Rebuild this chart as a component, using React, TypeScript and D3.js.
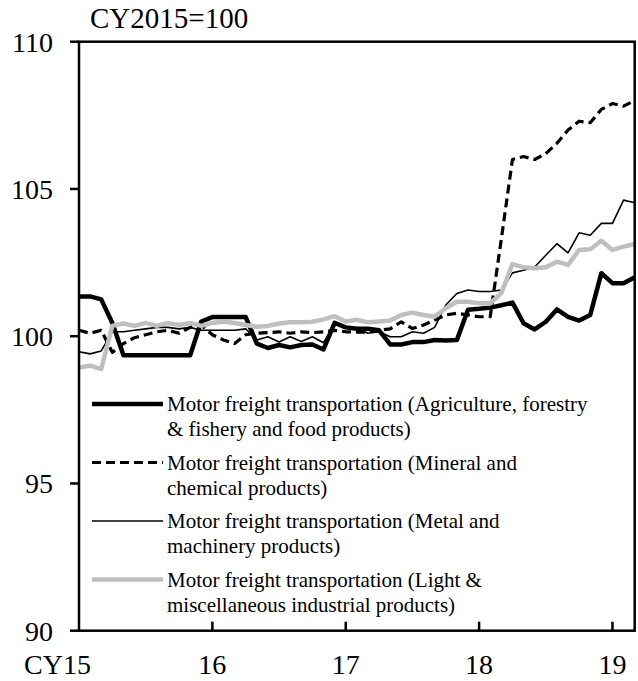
import React from "react";
import * as d3 from "d3";

const months: number = 51; // Jan 2015 .. Mar 2019
const agri = [101.35, 101.35, 101.25, 100.45, 99.35, 99.35, 99.35, 99.35, 99.35, 99.35, 99.35, 100.5, 100.65, 100.65, 100.65, 100.65, 99.75, 99.6, 99.7, 99.62, 99.7, 99.72, 99.55, 100.45, 100.3, 100.25, 100.25, 100.2, 99.72, 99.72, 99.8, 99.8, 99.87, 99.85, 99.87, 100.9, 100.93, 100.97, 101.05, 101.14, 100.44, 100.23, 100.49, 100.91, 100.66, 100.53, 100.72, 102.14, 101.8, 101.8, 102.0];
const mineral = [100.2, 100.1, 100.2, 99.45, 99.75, 99.95, 100.05, 100.15, 100.2, 100.1, 100.3, 100.38, 100.05, 99.87, 99.75, 100.05, 100.1, 100.12, 100.15, 100.1, 100.15, 100.12, 100.15, 100.2, 100.15, 100.14, 100.14, 100.2, 100.25, 100.49, 100.26, 100.38, 100.55, 100.72, 100.78, 100.72, 100.66, 100.66, 103.3, 106.0, 106.1, 106.0, 106.2, 106.55, 107.0, 107.3, 107.25, 107.7, 107.9, 107.81, 108.0];
const metal = [99.47, 99.4, 99.5, 100.15, 100.15, 100.2, 100.25, 100.3, 100.3, 100.25, 100.3, 100.2, 100.2, 100.2, 100.2, 100.25, 99.87, 99.98, 99.8, 99.98, 99.82, 99.98, 99.78, 100.4, 100.32, 100.26, 100.1, 100.15, 99.98, 99.98, 100.15, 100.1, 100.3, 101.06, 101.45, 101.57, 101.52, 101.52, 101.57, 102.15, 102.24, 102.35, 102.75, 103.14, 102.83, 103.51, 103.43, 103.83, 103.83, 104.62, 104.53];
const light = [98.94, 99.0, 98.88, 100.35, 100.43, 100.35, 100.45, 100.35, 100.45, 100.38, 100.45, 100.35, 100.45, 100.5, 100.45, 100.38, 100.32, 100.35, 100.43, 100.47, 100.47, 100.49, 100.57, 100.68, 100.5, 100.56, 100.47, 100.5, 100.53, 100.72, 100.8, 100.72, 100.66, 100.95, 101.17, 101.17, 101.12, 101.12, 101.46, 102.45, 102.34, 102.31, 102.34, 102.53, 102.42, 102.93, 102.95, 103.24, 102.93, 103.04, 103.13];

const xTickIdx = [12, 24, 36, 48];
const xTickLabels = ["16", "17", "18", "19"];
const firstLabel = "CY15";
const yTicks = [90, 95, 100, 105, 110];
const unitLabel = "CY2015=100";

const legendLines = [
  ["Motor freight transportation (Agriculture, forestry", "& fishery and food products)"],
  ["Motor freight transportation (Mineral and", "chemical products)"],
  ["Motor freight transportation (Metal and", "machinery products)"],
  ["Motor freight transportation (Light &", "miscellaneous industrial products)"],
];

const styles = [
  { color: "#000", width: 4.5, dash: "" },
  { color: "#000", width: 3.2, dash: "9,5" },
  { color: "#000", width: 1.6, dash: "" },
  { color: "#bfbfbf", width: 4.5, dash: "" },
];

export default function App() {
  const L = 79, R = 634.7, T = 41.7, B = 630.7;
  const x = d3.scaleLinear().domain([0, months - 1]).range([L, R]);
  const y = d3.scaleLinear().domain([90, 110]).range([B, T]);
  const line = d3.line<number>().x((_, i) => x(i)).y((d) => y(d));
  const series = [agri, mineral, metal, light];
  const font = "'Liberation Serif', 'Times New Roman', serif";
  const legY = [404, 462.5, 521, 579.5];
  return (
    <svg width={638} height={681} style={{ position: "absolute", left: 0, top: 0 }} fontFamily={font}>
      <rect x={0} y={0} width={638} height={681} fill="#fff" />
      {series.map((s, k) => (
        <path key={k} d={line(s) || ""} fill="none" stroke={styles[k].color} strokeWidth={styles[k].width}
          strokeDasharray={styles[k].dash || undefined} strokeLinejoin="round" />
      ))}
      <rect x={L} y={T} width={R - L} height={B - T} fill="none" stroke="#000" strokeWidth={2.5} />
      {yTicks.map((t) => (
        <g key={t}>
          <line x1={L - 9} x2={L} y1={y(t)} y2={y(t)} stroke="#000" strokeWidth={2.5} />
          <text x={53} y={y(t)} dy="0.35em" textAnchor="end" fontSize={28}>{t}</text>
        </g>
      ))}
      {xTickIdx.map((t, i) => (
        <g key={t}>
          <line x1={x(t)} x2={x(t)} y1={B} y2={B - 9} stroke="#000" strokeWidth={2.5} />
          <text x={x(t)} y={674} textAnchor="middle" fontSize={28}>{xTickLabels[i]}</text>
        </g>
      ))}
      <text x={57.5} y={674} textAnchor="middle" fontSize={28}>{firstLabel}</text>
      <text x={90} y={28} fontSize={29}>{unitLabel}</text>
      {legendLines.map((ls, k) => (
        <g key={k}>
          <line x1={92} x2={163} y1={legY[k]} y2={legY[k]} stroke={styles[k].color} strokeWidth={styles[k].width}
            strokeDasharray={styles[k].dash || undefined} />
          <text x={167} y={legY[k]} dy="0.35em" fontSize={21}>{ls[0]}</text>
          <text x={167} y={legY[k] + 25} dy="0.35em" fontSize={21}>{ls[1]}</text>
        </g>
      ))}
    </svg>
  );
}
